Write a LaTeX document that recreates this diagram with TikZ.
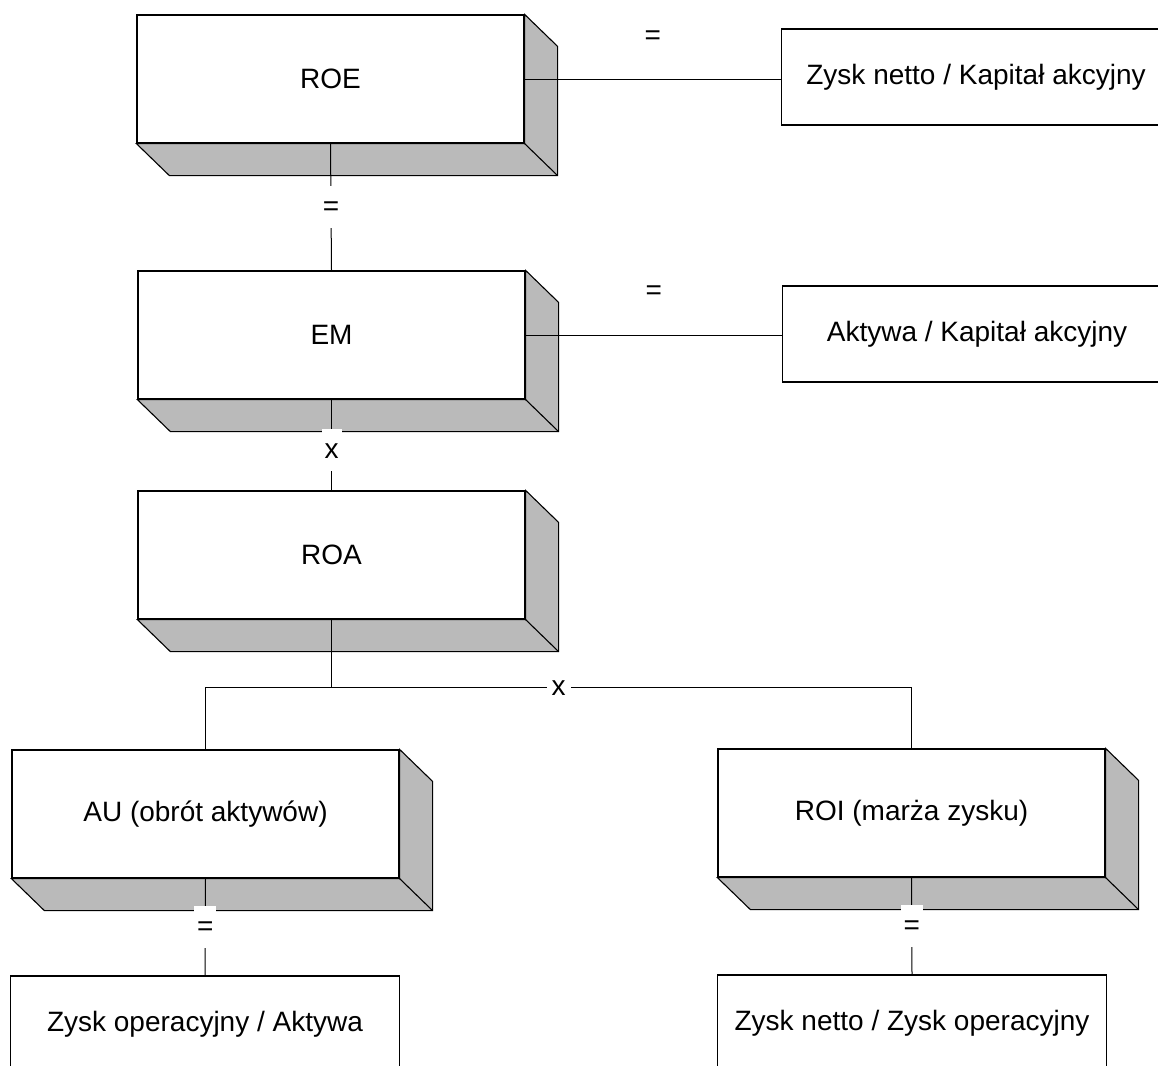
\documentclass[tikz,border=0pt]{standalone}
\usepackage{fontspec}
\setmainfont{Liberation Sans}
\begin{document}
\begin{tikzpicture}[x=1pt,y=-1pt,
  front/.style={draw, line width=1.2pt, fill=white, minimum width=387pt, minimum height=128pt, inner sep=0pt, font=\fontsize{28}{34}\selectfont},
  res/.style={draw, line width=1.2pt, fill=white, minimum width=389pt, minimum height=96pt, inner sep=0pt, font=\fontsize{28}{34}\selectfont},
  ext/.style={fill=black!27, draw=black, line width=1.1pt, line join=miter},
  conn/.style={line width=1pt},
  lbl/.style={fill=white, inner xsep=3pt, inner ysep=9pt, text height=20pt, text depth=4pt, font=\fontsize{28}{34}\selectfont},
  eqlbl/.style={inner sep=0pt, font=\fontsize{28}{34}\selectfont}]
\useasboundingbox (0,0) rectangle (1158,1065);
\clip (0,0) rectangle (1158,1065);

% front faces
\node[front] (roe) at (330.5,79) {ROE};
\node[front] (em) at (331.5,335) {EM};
\node[front] (roa) at (331.5,555) {ROA};
\node[front] (au) at (205.5,814) {AU (obrót aktywów)};
\node[front] (roi) at (911.5,813) {ROI (marża zysku)};

% result boxes
\node[res] (zk) at (976,77) {Zysk netto / Kapitał akcyjny};
\node[res] (ak) at (977,334) {Aktywa / Kapitał akcyjny};
\node[res] (zoa) at (205,1024) {Zysk operacyjny / Aktywa};
\node[res] (zzo) at (912,1023) {Zysk netto / Zysk operacyjny};

% 3D extrusions
\foreach \n in {roe,em,roa,au,roi}{
  \filldraw[ext] (\n.north east) -- ([shift={(33,32)}]\n.north east)
     -- ([shift={(33,32)}]\n.south east) -- ([shift={(33,32)}]\n.south west)
     -- (\n.south west) -- (\n.south east) -- cycle;
  \draw[ext, fill=none] (\n.south east) -- ([shift={(33,32)}]\n.south east);
}

% connectors
\draw[conn] (roe.south) -- node[lbl]{=} (em.north);
\draw[conn] (em.south) -- node[lbl, pos=0.56]{x} (roa.north);
\draw[conn] (roe.east) -- node[eqlbl, midway, yshift=41pt]{=} (roe.east -| zk.west);
\draw[conn] (em.east) -- node[eqlbl, midway, yshift=42pt]{=} (em.east -| ak.west);

\coordinate (split) at ([yshift=-68pt]roa.south);
\draw[conn] (roa.south) -- (split);
\draw[conn] (au.north) -- (au.north |- split) -- node[lbl, inner ysep=2pt, inner xsep=5pt]{x} (roi.north |- split) -- (roi.north);

\draw[conn] (au.south) -- node[lbl]{=} (zoa.north);
\draw[conn] (roi.south) -- node[lbl]{=} (zzo.north);
\end{tikzpicture}
\end{document}
